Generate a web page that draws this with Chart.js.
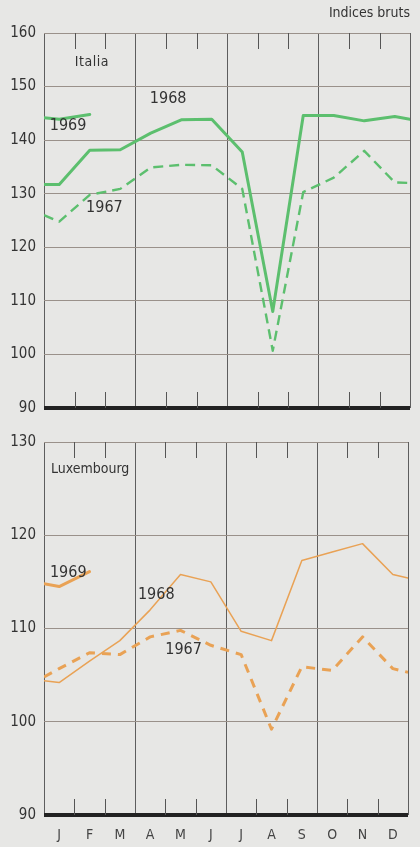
<!DOCTYPE html>
<html>
<head>
<meta charset="utf-8">
<script src="https://cdn.jsdelivr.net/npm/chart.js@4.4.0/dist/chart.umd.min.js"></script>
<style>
    html, body { margin: 0; padding: 0; background: #e7e7e5; }
    #top { position: absolute; left: 0; top: 0; width: 420px; height: 425px; }
    #bot { position: absolute; left: 0; top: 425px; width: 420px; height: 422px; }
</style>
</head>
<body>
<div id="top"><canvas id="itaChart"></canvas></div>
<div id="bot"><canvas id="luxChart"></canvas></div>
<script>
// --- Data (each series: value at start of year, then J..D, then value at end of year) ---
const months = ['J', 'F', 'M', 'A', 'M', 'J', 'J', 'A', 'S', 'O', 'N', 'D'];

const ita1968 = [131.7, 131.7, 138.1, 138.2, 141.3, 143.8, 143.9, 137.8, 108.0, 144.6, 144.6, 143.6, 144.4, 143.9];
const ita1967 = [126.0, 124.8, 129.8, 130.9, 134.9, 135.4, 135.3, 130.9, 100.7, 130.3, 133.0, 138.0, 132.1, 132.0];
const ita1969 = [144.2, 143.9, 144.8];

const lux1968 = [104.4, 104.2, 106.5, 108.7, 112.0, 115.8, 115.0, 109.7, 108.7, 117.3, 118.2, 119.1, 115.8, 115.4];
const lux1967 = [104.8, 105.7, 107.4, 107.2, 109.1, 109.8, 108.2, 107.2, 99.2, 105.9, 105.5, 109.1, 105.7, 105.3];
const lux1969 = [114.8, 114.5, 116.1];

const itaRange = [90, 160];
const luxRange = [90, 130];

const GREEN = '#5cbf6e';
const ORANGE = '#e9a255';
const FONT = "'Liberation Sans Narrow', 'DejaVu Sans Condensed', sans-serif";

// turn [start, J.., end] into {x,y} points on a 0..12 month scale
function pts(vals) {
    return vals.map((v, i) => ({ x: i === 0 ? 0 : (i > months.length ? 12 : i - 0.5), y: v }));
}

// --- Plugin: short month ticks, annotations ---
const decor = {
    id: 'decor',
    beforeDatasetsDraw(chart, args, opts) {
        const { ctx, chartArea: a, scales: { x } } = chart;
        ctx.save();
        ctx.strokeStyle = '#555';
        ctx.lineWidth = 1;
        for (let i = 1; i < 12; i++) {
            if (i % 3 === 0) continue;
            const px = Math.round(x.getPixelForValue(i)) + 0.5;
            ctx.beginPath();
            ctx.moveTo(px, a.top); ctx.lineTo(px, a.top + 16);
            ctx.moveTo(px, a.bottom); ctx.lineTo(px, a.bottom - 16);
            ctx.stroke();
        }
        ctx.restore();
    },
    afterDatasetsDraw(chart, args, opts) {
        const { ctx, chartArea: a, scales: { x, y } } = chart;
        ctx.save();
        ctx.fillStyle = '#333';
        ctx.textBaseline = 'middle';
        (opts.labels || []).forEach(l => {
            ctx.font = `${l.size || 16}px ${FONT}`;
            ctx.textAlign = 'center';
            if (ctx.letterSpacing !== undefined) ctx.letterSpacing = l.spacing || '0px';
            ctx.fillText(l.text, x.getPixelForValue(l.x), y.getPixelForValue(l.y));
        });
        if (opts.corner) {
            ctx.font = `14px ${FONT}`;
            ctx.textAlign = 'right';
            if (ctx.letterSpacing !== undefined) ctx.letterSpacing = '0px';
            ctx.fillText(opts.corner, a.right, a.top - 20);
        }
        ctx.restore();
    }
};

function makeChart(id, range, sets, labels, corner, showMonths, padding) {
    return new Chart(document.getElementById(id).getContext('2d'), {
        type: 'line',
        data: { datasets: sets },
        plugins: [decor],
        options: {
            responsive: true, maintainAspectRatio: false, animation: false,
            layout: { padding: padding },
            elements: { point: { radius: 0 }, line: { tension: 0, borderCapStyle: 'round', borderJoinStyle: 'round' } },
            plugins: { legend: { display: false }, tooltip: { enabled: false }, decor: { labels: labels, corner: corner } },
            scales: {
                x: {
                    type: 'linear', min: 0, max: 12,
                    afterBuildTicks: s => { s.ticks = Array.from({ length: 25 }, (_, i) => ({ value: i / 2 })); },
                    afterFit: s => { s.height = showMonths ? 32 : 0; },
                    grid: {
                        drawTicks: false,
                        color: c => (c.tick && c.tick.value % 3 === 0) ? '#5e5e5e' : 'rgba(0,0,0,0)',
                        lineWidth: 1
                    },
                    border: { display: false },
                    ticks: {
                        display: showMonths, autoSkip: false, maxRotation: 0, padding: 12,
                        color: '#444', font: { family: FONT, size: 14 },
                        callback: v => Number.isInteger(v) ? '' : months[Math.floor(v)]
                    }
                },
                y: {
                    min: range[0], max: range[1],
                    afterFit: s => { s.width = 44; },
                    grid: {
                        drawTicks: false,
                        color: c => c.tick.value === range[0] ? '#222' : '#9a918a',
                        lineWidth: c => c.tick.value === range[0] ? 4 : 1
                    },
                    border: { display: false },
                    ticks: { stepSize: 10, padding: 8, color: '#333', font: { family: FONT, size: 15 } }
                }
            }
        }
    });
}

makeChart('itaChart', itaRange, [
    { data: pts(ita1967), borderColor: GREEN, borderWidth: 2.4, borderDash: [10, 6], borderCapStyle: 'butt' },
    { data: pts(ita1968), borderColor: GREEN, borderWidth: 3 },
    { data: pts(ita1969), borderColor: GREEN, borderWidth: 3 }
], [
    { text: 'Italia', x: 1.57, y: 154.5, size: 14, spacing: '0.5px' },
    { text: '1969', x: 0.79, y: 142.6 },
    { text: '1968', x: 4.07, y: 147.8 },
    { text: '1967', x: 1.98, y: 127.3 }
], 'Indices bruts', false, { top: 33, bottom: 13, left: 0, right: 10 });

makeChart('luxChart', luxRange, [
    { data: pts(lux1967), borderColor: ORANGE, borderWidth: 3, borderDash: [9, 7], borderCapStyle: 'butt' },
    { data: pts(lux1968), borderColor: ORANGE, borderWidth: 1.5 },
    { data: pts(lux1969), borderColor: ORANGE, borderWidth: 3 }
], [
    { text: 'Luxembourg', x: 1.52, y: 127.1, size: 14, spacing: '0px' },
    { text: '1969', x: 0.8, y: 116.0 },
    { text: '1968', x: 3.7, y: 113.6 },
    { text: '1967', x: 4.6, y: 107.7 }
], null, true, { top: 14, bottom: 0, left: 0, right: 10 });
</script>
</body>
</html>
